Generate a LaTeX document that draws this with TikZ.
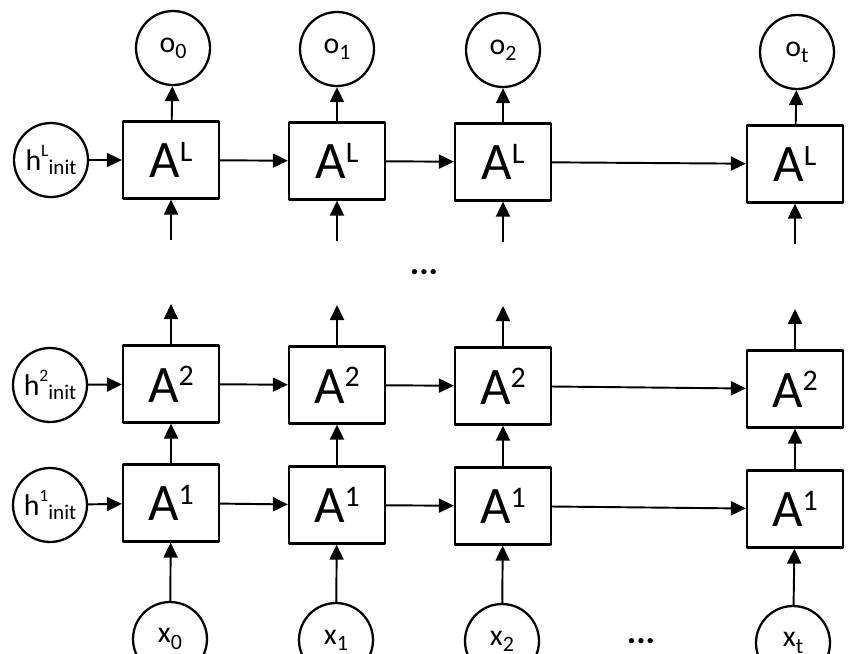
\documentclass[tikz,border=0pt]{standalone}
\usepackage{fontspec}
\setmainfont{Carlito}
\usetikzlibrary{arrows.meta}
\newcommand{\cellname}[1]{\fontsize{30}{30}\selectfont A\raisebox{9.5pt}{\fontsize{17}{17}\selectfont #1}}
\newcommand{\portname}[2]{\fontsize{17}{17}\selectfont #1\raisebox{-3.5pt}{\fontsize{12.5}{12.5}\selectfont #2}}
\newcommand{\initname}[1]{\fontsize{17}{17}\selectfont h\raisebox{8pt}{\fontsize{10}{10}\selectfont #1}\raisebox{-2pt}{\fontsize{12}{12}\selectfont init}}
\begin{document}
\begin{tikzpicture}[x=0.02cm,y=-0.02cm,line width=1.3pt,line join=round,
		cell/.style={draw,minimum width=1.92cm,minimum height=1.54cm,inner sep=0pt},
		port/.style={draw,circle,minimum size=1.48cm,inner sep=0pt},
		link/.style={line width=1.1pt,-{Triangle[length=0.3cm,width=0.28cm]}},
		more/.style={font=\fontsize{20}{20}\selectfont\bfseries}]
			\useasboundingbox[fill=white] (0,0) rectangle (865,653);
			\node[port] (hL) at (51,160) {\initname{L}};
			\node[port] (h2) at (50,385) {\initname{2}};
			\node[port] (h1) at (50,505) {\initname{1}};
			\node[cell] (aL0) at (171,160) {\cellname{L}};
			\node[cell] (aL1) at (337,161) {\cellname{L}};
			\node[cell] (aL2) at (503,162) {\cellname{L}};
			\node[cell] (aL3) at (795,164) {\cellname{L}};
			\node[cell] (a20) at (171,384) {\cellname{2}};
			\node[cell] (a21) at (337,385) {\cellname{2}};
			\node[cell] (a22) at (503,386) {\cellname{2}};
			\node[cell] (a23) at (795,389) {\cellname{2}};
			\node[cell] (a10) at (171,503) {\cellname{1}};
			\node[cell] (a11) at (337,505) {\cellname{1}};
			\node[cell] (a12) at (503,506) {\cellname{1}};
			\node[cell] (a13) at (795,509) {\cellname{1}};
			\node[port] (o0) at (173,48) {\portname{o}{0}};
			\node[port] (o1) at (337,49) {\portname{o}{1}};
			\node[port] (o2) at (503,50) {\portname{o}{2}};
			\node[port] (o3) at (797,52) {\portname{o}{t}};
			\node[port] (x0) at (170,639) {\portname{x}{0}};
			\node[port] (x1) at (336,640) {\portname{x}{1}};
			\node[port] (x2) at (502,641) {\portname{x}{2}};
			\node[port] (x3) at (793,643) {\portname{x}{t}};
			\node[more] (gap) at (424,272) {...};
			\node[more] (gapx) at (641,641) {...};
			\coordinate (bL0) at (171,240);
			\coordinate (bL1) at (337,241);
			\coordinate (bL2) at (503,242);
			\coordinate (bL3) at (795,244);
			\coordinate (t20) at (171,304);
			\coordinate (t21) at (337,305);
			\coordinate (t22) at (503,306);
			\coordinate (t23) at (795,309);
			\draw[link] (hL) -- (aL0);
			\draw[link] (aL0) -- (aL1);
			\draw[link] (aL1) -- (aL2);
			\draw[link] (aL2) -- (aL3);
			\draw[link] (h2) -- (a20);
			\draw[link] (a20) -- (a21);
			\draw[link] (a21) -- (a22);
			\draw[link] (a22) -- (a23);
			\draw[link] (h1) -- (a10);
			\draw[link] (a10) -- (a11);
			\draw[link] (a11) -- (a12);
			\draw[link] (a12) -- (a13);
			\draw[link] (aL0) -- (o0);
			\draw[link] (aL1) -- (o1);
			\draw[link] (aL2) -- (o2);
			\draw[link] (aL3) -- (o3);
			\draw[link] (bL0) -- (aL0);
			\draw[link] (bL1) -- (aL1);
			\draw[link] (bL2) -- (aL2);
			\draw[link] (bL3) -- (aL3);
			\draw[link] (a20) -- (t20);
			\draw[link] (a21) -- (t21);
			\draw[link] (a22) -- (t22);
			\draw[link] (a23) -- (t23);
			\draw[link] (a10) -- (a20);
			\draw[link] (a11) -- (a21);
			\draw[link] (a12) -- (a22);
			\draw[link] (a13) -- (a23);
			\draw[link] (x0) -- (a10);
			\draw[link] (x1) -- (a11);
			\draw[link] (x2) -- (a12);
			\draw[link] (x3) -- (a13);
		\end{tikzpicture}
\end{document}
